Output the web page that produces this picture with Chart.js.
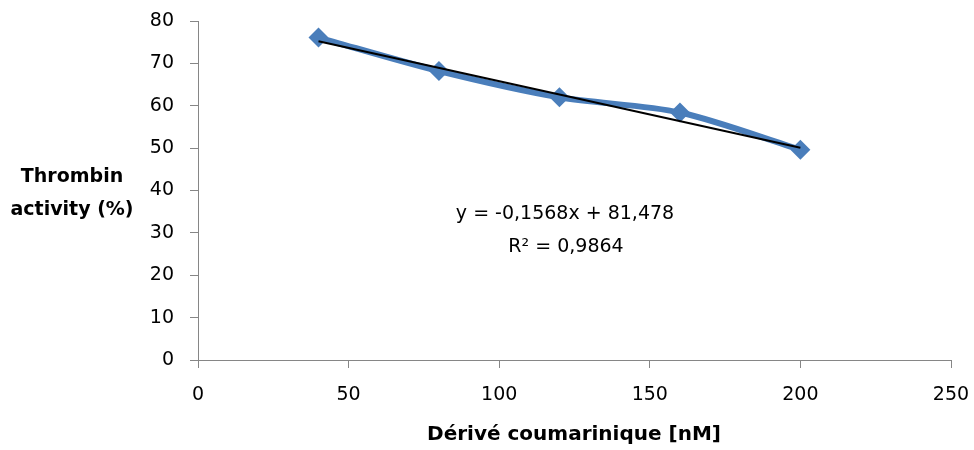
<!DOCTYPE html>
<html lang="fr">
<head>
  <meta charset="UTF-8">
  <title>Thrombin activity</title>
  <script src="https://cdn.jsdelivr.net/npm/chart.js"></script>
  <style>
    html, body {
      margin: 0;
      padding: 0;
      background: #fff;
    }
    .wrap {
      width: 974px;
      height: 450px;
    }
  </style>
</head>
<body>
  <div class="wrap"><canvas id="myChart" width="974" height="450"></canvas></div>

  <script>
    // concentrations (nM) and measured activity (%)
    const conc = [40, 80, 120, 160, 200];
    const activity = [76.1, 68.2, 62.0, 58.4, 49.6];

    // linear trendline, at the ends of the range
    const trendX = [40, 200];
    const trendY = [75.2, 50.1];

    const xTitle = 'Dérivé coumarinique [nM]';
    const yTitle = ['Thrombin', 'activity (%)'];
    const equation = ['y = -0,1568x + 81,478', 'R² = 0,9864'];

    const FONT = '"DejaVu Sans", sans-serif';
    const axisGrey = '#868686';

    const labelsPlugin = {
      id: 'labels',
      afterDraw(chart) {
        const ctx = chart.ctx;
        ctx.save();
        ctx.fillStyle = '#000';
        ctx.textAlign = 'center';
        ctx.textBaseline = 'middle';

        ctx.font = 'bold 19px ' + FONT;
        ctx.fillText(yTitle[0], 72, 177);
        ctx.fillText(yTitle[1], 72, 210);

        ctx.font = 'bold 20px ' + FONT;
        ctx.fillText(xTitle, 574, 435);

        ctx.font = '19px ' + FONT;
        ctx.fillText(equation[0], 565, 214);
        ctx.fillText(equation[1], 566, 247);
        ctx.restore();
      }
    };

    const ctx = document.getElementById('myChart').getContext('2d');

    new Chart(ctx, {
      type: 'scatter',
      data: {
        datasets: [
          {
            label: 'trend',
            data: trendX.map((x, i) => ({ x: x, y: trendY[i] })),
            showLine: true,
            borderColor: '#000',
            borderWidth: 2,
            pointRadius: 0,
            tension: 0,
            order: 0
          },
          {
            label: 'activity',
            data: conc.map((x, i) => ({ x: x, y: activity[i] })),
            showLine: true,
            borderColor: '#4A7EBB',
            borderWidth: 6,
            backgroundColor: '#4A7EBB',
            pointStyle: 'rectRot',
            pointRadius: 10,
            pointBorderWidth: 0,
            tension: 0.3,
            order: 1
          }
        ]
      },
      options: {
        responsive: false,
        animation: false,
        layout: {
          padding: { top: 21, right: 23, left: 0, bottom: 0 }
        },
        plugins: {
          legend: { display: false },
          tooltip: { enabled: false }
        },
        scales: {
          x: {
            type: 'linear',
            min: 0,
            max: 250,
            ticks: {
              stepSize: 50,
              color: '#000',
              padding: 16,
              font: { family: FONT, size: 19 }
            },
            grid: {
              drawOnChartArea: false,
              drawTicks: true,
              tickLength: 8,
              color: axisGrey
            },
            border: { color: axisGrey, width: 1 },
            afterFit(scale) {
              scale.height = 90;
              scale.paddingLeft = 0;
              scale.paddingRight = 0;
            }
          },
          y: {
            type: 'linear',
            min: 0,
            max: 80,
            ticks: {
              stepSize: 10,
              color: '#000',
              padding: 16,
              font: { family: FONT, size: 19 }
            },
            grid: {
              drawOnChartArea: false,
              drawTicks: true,
              tickLength: 8,
              color: axisGrey
            },
            border: { color: axisGrey, width: 1 },
            afterFit(scale) {
              scale.width = 198;
              scale.paddingTop = 0;
              scale.paddingBottom = 0;
            }
          }
        }
      },
      plugins: [labelsPlugin]
    });
  </script>
</body>
</html>
